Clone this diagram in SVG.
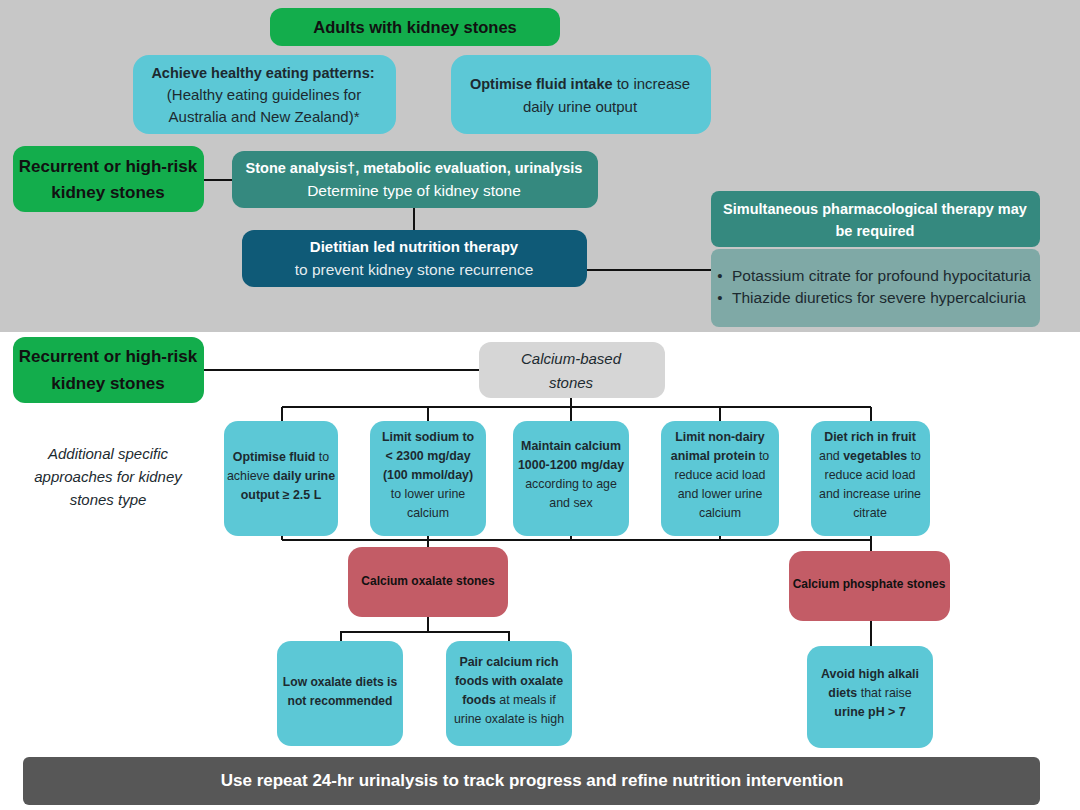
<svg xmlns="http://www.w3.org/2000/svg" width="1080" height="810" viewBox="0 0 1080 810">
<style>
text{font-family:"Liberation Sans",Arial,sans-serif;text-anchor:middle}
.b{font-weight:bold}
.it{font-style:italic}
.dk{fill:#111}
.tx{fill:#1c2a30}
.wh{fill:#fff}
.green{fill:#13ad4c}
.cyan{fill:#5cc8d6}
.teal{fill:#35897f}
.navy{fill:#0f5a77}
.red{fill:#c35c66}
.sm{font-size:12.4px}
.lines{stroke:#111;stroke-width:2;fill:none}
</style>
<rect x="0" y="0" width="1080" height="332" fill="#c7c7c7"/>
<rect x="0" y="332" width="1080" height="478" fill="#fff"/>

<g id="connectors" class="lines">
<line x1="204" y1="180" x2="232" y2="180"/>
<line x1="414" y1="208" x2="414" y2="230"/>
<line x1="587" y1="270" x2="711" y2="270"/>
<line x1="204" y1="370" x2="479" y2="370"/>
<polyline points="571,398 571,407"/>
<line x1="282" y1="407" x2="871" y2="407"/>
<line x1="282" y1="407" x2="282" y2="421"/>
<line x1="428" y1="407" x2="428" y2="421"/>
<line x1="571" y1="407" x2="571" y2="421"/>
<line x1="720" y1="407" x2="720" y2="421"/>
<line x1="871" y1="407" x2="871" y2="421"/>
<line x1="282" y1="540" x2="871" y2="540"/>
<line x1="282" y1="535" x2="282" y2="540"/>
<line x1="428" y1="535" x2="428" y2="547"/>
<line x1="571" y1="535" x2="571" y2="540"/>
<line x1="720" y1="535" x2="720" y2="540"/>
<line x1="871" y1="535" x2="871" y2="551"/>
<line x1="428" y1="617" x2="428" y2="632"/>
<polyline points="341,641 341,632 509,632 509,641"/>
<line x1="871" y1="621" x2="871" y2="646"/>
</g>

<g id="adults">
<rect x="270" y="8" width="290" height="38" rx="12" class="green"/>
<text x="415" y="33" class="b dk" font-size="16.5">Adults with kidney stones</text>
</g>

<g id="healthy-eating">
<rect x="133" y="55" width="263" height="79" rx="16" class="cyan"/>
<text x="263" y="78" class="b tx" font-size="14.5">Achieve healthy eating patterns:</text>
<text x="264" y="100" class="tx" font-size="15">(Healthy eating guidelines for</text>
<text x="264" y="122" class="tx" font-size="15">Australia and New Zealand)*</text>
</g>

<g id="fluid-intake">
<rect x="451" y="55" width="260" height="79" rx="16" class="cyan"/>
<text x="580" y="89" class="tx" font-size="15"><tspan class="b" font-size="14.5">Optimise fluid intake</tspan> to increase</text>
<text x="580" y="112" class="tx" font-size="15">daily urine output</text>
</g>

<g id="recurrent-top">
<rect x="13" y="146" width="191" height="66" rx="12" class="green"/>
<text x="108" y="172" class="b dk" font-size="17">Recurrent or high-risk</text>
<text x="108" y="198" class="b dk" font-size="17">kidney stones</text>
</g>

<g id="stone-analysis">
<rect x="232" y="151" width="366" height="57" rx="12" class="teal"/>
<text x="414" y="173" class="b wh" font-size="14.5">Stone analysis†, metabolic evaluation, urinalysis</text>
<text x="414" y="196" class="wh" font-size="15.5">Determine type of kidney stone</text>
</g>

<g id="dietitian">
<rect x="242" y="230" width="345" height="57" rx="12" class="navy"/>
<text x="414" y="252" class="b wh" font-size="15">Dietitian led nutrition therapy</text>
<text x="414" y="275" class="wh" font-size="15.5" fill-opacity="0.9">to prevent kidney stone recurrence</text>
</g>

<g id="pharmacological">
<rect x="711" y="191" width="329" height="56" rx="8" class="teal"/>
<text x="875" y="214" class="b wh" font-size="14.5">Simultaneous pharmacological therapy may</text>
<text x="875" y="236" class="b wh" font-size="14.5">be required</text>
</g>

<g id="pharma-list">
<rect x="711" y="249" width="329" height="78" rx="8" fill="#7fa9a6"/>
<text x="720" y="281" class="tx" font-size="15">•</text>
<text x="720" y="303" class="tx" font-size="15">•</text>
<text x="732" y="281" class="tx" font-size="15.5" style="text-anchor:start">Potassium citrate for profound hypocitaturia</text>
<text x="732" y="303" class="tx" font-size="15.5" style="text-anchor:start">Thiazide diuretics for severe hypercalciuria</text>
</g>

<g id="recurrent-bottom">
<rect x="13" y="337" width="191" height="66" rx="12" class="green"/>
<text x="108" y="362" class="b dk" font-size="17">Recurrent or high-risk</text>
<text x="108" y="389" class="b dk" font-size="17">kidney stones</text>
</g>

<g id="calcium-based">
<rect x="479" y="342" width="186" height="56" rx="12" fill="#d6d6d6"/>
<text x="571" y="364" class="it tx" font-size="15">Calcium-based</text>
<text x="571" y="388" class="it tx" font-size="15">stones</text>
</g>

<g id="additional-label">
<text x="108" y="459" class="it tx" font-size="15">Additional specific</text>
<text x="108" y="482" class="it tx" font-size="15">approaches for kidney</text>
<text x="108" y="505" class="it tx" font-size="15">stones type</text>
</g>

<g id="optimise-fluid">
<rect x="224" y="421" width="114" height="115" rx="14" class="cyan"/>
<text x="281" y="461" class="tx sm"><tspan class="b">Optimise fluid</tspan> to</text>
<text x="281" y="480" class="tx sm">achieve <tspan class="b">daily urine</tspan></text>
<text x="281" y="499" class="b tx sm">output ≥ 2.5 L</text>
</g>

<g id="limit-sodium">
<rect x="370" y="421" width="116" height="115" rx="14" class="cyan"/>
<text x="428" y="441" class="b tx sm">Limit sodium to</text>
<text x="428" y="460" class="b tx sm">&lt; 2300 mg/day</text>
<text x="428" y="479" class="b tx sm">(100 mmol/day)</text>
<text x="428" y="498" class="tx sm">to lower urine</text>
<text x="428" y="517" class="tx sm">calcium</text>
</g>

<g id="maintain-calcium">
<rect x="513" y="421" width="116" height="115" rx="14" class="cyan"/>
<text x="571" y="450" class="b tx sm">Maintain calcium</text>
<text x="571" y="469" class="b tx sm">1000-1200 mg/day</text>
<text x="571" y="488" class="tx sm">according to age</text>
<text x="571" y="507" class="tx sm">and sex</text>
</g>

<g id="limit-protein">
<rect x="661" y="421" width="118" height="115" rx="14" class="cyan"/>
<text x="720" y="441" class="b tx sm">Limit non-dairy</text>
<text x="720" y="460" class="tx sm"><tspan class="b">animal protein</tspan> to</text>
<text x="720" y="479" class="tx sm">reduce acid load</text>
<text x="720" y="498" class="tx sm">and lower urine</text>
<text x="720" y="517" class="tx sm">calcium</text>
</g>

<g id="fruit-veg">
<rect x="811" y="421" width="119" height="115" rx="14" class="cyan"/>
<text x="870" y="441" class="b tx sm">Diet rich in fruit</text>
<text x="870" y="460" class="tx sm">and <tspan class="b">vegetables</tspan> to</text>
<text x="870" y="479" class="tx sm">reduce acid load</text>
<text x="870" y="498" class="tx sm">and increase urine</text>
<text x="870" y="517" class="tx sm">citrate</text>
</g>

<g id="calcium-oxalate">
<rect x="348" y="547" width="160" height="70" rx="14" class="red"/>
<text x="428" y="585" class="b dk" font-size="12">Calcium oxalate stones</text>
</g>

<g id="calcium-phosphate">
<rect x="789" y="551" width="161" height="70" rx="14" class="red"/>
<text x="869" y="588" class="b dk" font-size="12">Calcium phosphate stones</text>
</g>

<g id="low-oxalate">
<rect x="277" y="641" width="126" height="105" rx="14" class="cyan"/>
<text x="340" y="686" class="b tx" font-size="12.1">Low oxalate diets is</text>
<text x="340" y="705" class="b tx" font-size="12.1">not recommended</text>
</g>

<g id="pair-calcium">
<rect x="446" y="641" width="126" height="105" rx="14" class="cyan"/>
<text x="509" y="666" class="b tx sm">Pair calcium rich</text>
<text x="509" y="685" class="b tx sm">foods with oxalate</text>
<text x="509" y="704" class="tx sm"><tspan class="b">foods</tspan> at meals if</text>
<text x="509" y="723" class="tx sm">urine oxalate is high</text>
</g>

<g id="avoid-alkali">
<rect x="807" y="646" width="126" height="102" rx="14" class="cyan"/>
<text x="870" y="678" class="b tx sm">Avoid high alkali</text>
<text x="870" y="697" class="tx sm"><tspan class="b">diets</tspan> that raise</text>
<text x="870" y="716" class="b tx sm">urine pH &gt; 7</text>
</g>

<g id="urinalysis-bar">
<rect x="23" y="757" width="1017" height="48" rx="6" fill="#575757"/>
<text x="532" y="786" class="b wh" font-size="17">Use repeat 24-hr urinalysis to track progress and refine nutrition intervention</text>
</g>
</svg>
